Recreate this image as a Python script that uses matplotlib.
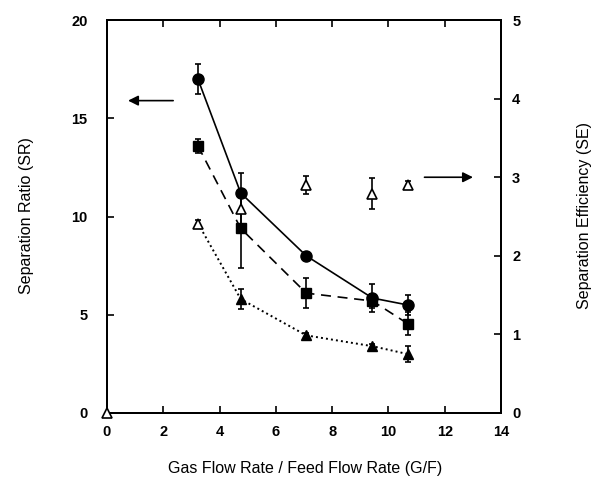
import matplotlib.pyplot as plt
import numpy as np

plt.rcParams['font.family'] = ['Liberation Sans', 'DejaVu Sans']

# gas flow rate / feed flow rate (G/F)
gf = [3.23, 4.75, 7.08, 9.43, 10.68]

# separation ratio series (left axis)
sr_circle = [17.0, 11.2, 8.0, 5.85, 5.5]
sr_circle_err = [0.75, 1.0, 0.2, 0.7, 0.5]
sr_square = [13.6, 9.4, 6.1, 5.7, 4.55]
sr_square_err = [0.35, 2.0, 0.75, 0.35, 0.6]
sr_tri = [9.66, 5.8, 3.95, 3.4, 3.0]
sr_tri_err = [0.15, 0.5, 0.1, 0.1, 0.4]

# separation efficiency (right axis)
se_gf = [0, 3.23, 4.75, 7.08, 9.43, 10.68]
se_tri = [0, 2.41, 2.6, 2.9, 2.79, 2.9]
se_tri_err = [0, 0.05, 0.2, 0.11, 0.2, 0.05]

fig = plt.figure(figsize=(5.93, 4.78), dpi=100)
ax = fig.add_axes([0.1804, 0.136, 0.6646, 0.822])
ax2 = ax.twinx()

lw = 1.2
ebkw = dict(ecolor="black", elinewidth=1.2, capsize=2.5, capthick=1.2)

ax.errorbar(gf, sr_circle, yerr=sr_circle_err, fmt='o-', color="black", ms=8,
            lw=lw, **ebkw)
ax.errorbar(gf, sr_square, yerr=sr_square_err, fmt='s', color="black", ms=7.5,
            **ebkw)
ax.plot(gf, sr_square, color="black", lw=lw, dashes=(6, 4))
ax.plot(gf, sr_tri, color="black", lw=1.4, dashes=(1, 1.6))
ax.errorbar(gf[1:], sr_tri[1:], yerr=sr_tri_err[1:], fmt='^', color="black",
            ms=7, **ebkw)

se = ax2.errorbar(se_gf, se_tri, yerr=se_tri_err, fmt='^', mfc="white",
                  mec="black", mew=1.2, ms=7.5, **ebkw)
for artist in se.lines[0:1]:
    artist.set_clip_on(False)
    artist.set_zorder(5)

# direction arrows
ax.annotate("", xy=(0.65, 15.9), xytext=(2.45, 15.9),
            arrowprops=dict(arrowstyle="-|>", color="black", lw=1.2,
                            mutation_scale=15))
ax2.annotate("", xy=(13.1, 3.0), xytext=(11.18, 3.0),
             arrowprops=dict(arrowstyle="-|>", color="black", lw=1.2,
                             mutation_scale=15))

ax.set_xlim(0, 14)
ax.set_ylim(0, 20)
ax2.set_ylim(0, 5)
ax.set_xticks(np.arange(0, 15, 2))
ax.set_yticks(np.arange(0, 21, 5))
ax2.set_yticks(np.arange(0, 6, 1))

for a in (ax, ax2):
    for s in a.spines.values():
        s.set_linewidth(1.4)
ax.tick_params(direction="in", length=5, width=1.2, top=True, right=False,
               labelsize=10.5, pad=9)
ax.tick_params(axis="y", pad=14)
ax2.tick_params(direction="in", length=5, width=1.2, labelsize=10.5, pad=8)
for lab in ax.get_xticklabels() + ax.get_yticklabels() + ax2.get_yticklabels():
    lab.set_fontweight("bold")

fig.text(0.515, 0.02, "Gas Flow Rate / Feed Flow Rate (G/F)", ha="center",
         va="center", fontsize=11.5)
fig.text(0.045, 0.55, "Separation Ratio (SR)", rotation=90, ha="center",
         va="center", fontsize=11.5)
fig.text(0.985, 0.55, "Separation Efficiency (SE)", rotation=90, ha="center",
         va="center", fontsize=11.5)

fig.savefig("out.png", dpi=100)
